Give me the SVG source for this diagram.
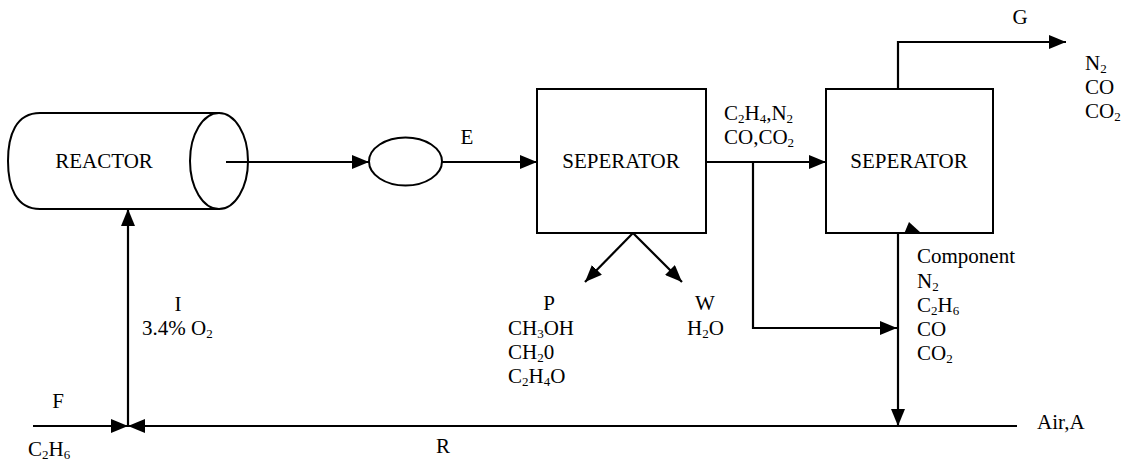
<svg xmlns="http://www.w3.org/2000/svg" width="1123" height="464" viewBox="0 0 1123 464">
<style>
.t{font-family:"Liberation Serif","Times New Roman",serif;font-size:21px;fill:#000}
.s{font-size:13px}
.shape{fill:#fff;stroke:#000;stroke-width:2}
.ln{fill:none;stroke:#000;stroke-width:2.2}
</style>
<defs>
<marker id="ah" markerUnits="userSpaceOnUse" markerWidth="17" markerHeight="14" refX="17" refY="7" orient="auto">
<path d="M0,0 L17,7 L0,14 z" fill="#000"/>
</marker>
</defs>
<rect width="1123" height="464" fill="#fff"/>
<g id="reactor">
<path class="shape" d="M220,113 L40,113 C16,113 8,135 8,161 C8,187 16,209 40,209 L220,209"/>
<ellipse class="shape" cx="219" cy="161" rx="29" ry="48"/>
<text class="t" x="104" y="168" text-anchor="middle">REACTOR</text>
</g>
<g id="valve">
<ellipse class="shape" cx="405.5" cy="161.5" rx="36.5" ry="24"/>
</g>
<g id="separator1">
<rect class="shape" x="537" y="89" width="169" height="144"/>
<text class="t" x="621" y="168" text-anchor="middle">SEPERATOR</text>
</g>
<g id="separator2">
<rect class="shape" x="826" y="89" width="167" height="144"/>
<text class="t" x="909" y="168" text-anchor="middle">SEPERATOR</text>
</g>
<g id="connectors">
<path class="ln" d="M226,162 L369,162" marker-end="url(#ah)"/>
<path class="ln" d="M442,162 L537,162" marker-end="url(#ah)"/>
<path class="ln" d="M706,162 L826,162" marker-end="url(#ah)"/>
<path class="ln" d="M753,162 L753,328 L897,328" marker-end="url(#ah)"/>
<path class="ln" d="M898,233 L898,426" marker-end="url(#ah)"/>
<path class="ln" d="M898,89 L898,42 L1066,42" marker-end="url(#ah)"/>
<path class="ln" d="M633,233 L585,282" marker-end="url(#ah)"/>
<path class="ln" d="M633,233 L682,282" marker-end="url(#ah)"/>
<path class="ln" d="M33,426 L128,426" marker-end="url(#ah)"/>
<path class="ln" d="M1017,426 L128,426" marker-end="url(#ah)"/>
<path class="ln" d="M128,426 L128,209" marker-end="url(#ah)"/>
<polygon points="904,234 921,233 909,222" fill="#000"/>
</g>
<g id="labels">
<text class="t" x="467" y="144" text-anchor="middle">E</text>
<text class="t" x="1020" y="24" text-anchor="middle">G</text>
<text class="t" x="1085" y="70">N<tspan class="s" dy="3">2</tspan></text>
<text class="t" x="1085" y="94">CO</text>
<text class="t" x="1085" y="118">CO<tspan class="s" dy="3">2</tspan></text>
<text class="t" x="724" y="120">C<tspan class="s" dy="3">2</tspan><tspan dy="-3">H</tspan><tspan class="s" dy="3">4</tspan><tspan dy="-3">,N</tspan><tspan class="s" dy="3">2</tspan></text>
<text class="t" x="724" y="144">CO,CO<tspan class="s" dy="3">2</tspan></text>
<text class="t" x="917" y="263">Component</text>
<text class="t" x="917" y="288">N<tspan class="s" dy="3">2</tspan></text>
<text class="t" x="917" y="312">C<tspan class="s" dy="3">2</tspan><tspan dy="-3">H</tspan><tspan class="s" dy="3">6</tspan></text>
<text class="t" x="917" y="336">CO</text>
<text class="t" x="917" y="360">CO<tspan class="s" dy="3">2</tspan></text>
<text class="t" x="549" y="310" text-anchor="middle">P</text>
<text class="t" x="508" y="335">CH<tspan class="s" dy="3">3</tspan><tspan dy="-3">OH</tspan></text>
<text class="t" x="508" y="359">CH<tspan class="s" dy="3">2</tspan><tspan dy="-3">0</tspan></text>
<text class="t" x="508" y="383">C<tspan class="s" dy="3">2</tspan><tspan dy="-3">H</tspan><tspan class="s" dy="3">4</tspan><tspan dy="-3">O</tspan></text>
<text class="t" x="705" y="310" text-anchor="middle">W</text>
<text class="t" x="687" y="335">H<tspan class="s" dy="3">2</tspan><tspan dy="-3">O</tspan></text>
<text class="t" x="178" y="311" text-anchor="middle">I</text>
<text class="t" x="142" y="335">3.4% O<tspan class="s" dy="3">2</tspan></text>
<text class="t" x="58" y="408" text-anchor="middle">F</text>
<text class="t" x="28" y="456">C<tspan class="s" dy="3">2</tspan><tspan dy="-3">H</tspan><tspan class="s" dy="3">6</tspan></text>
<text class="t" x="443" y="453" text-anchor="middle">R</text>
<text class="t" x="1037" y="429">Air,A</text>
</g>
</svg>
